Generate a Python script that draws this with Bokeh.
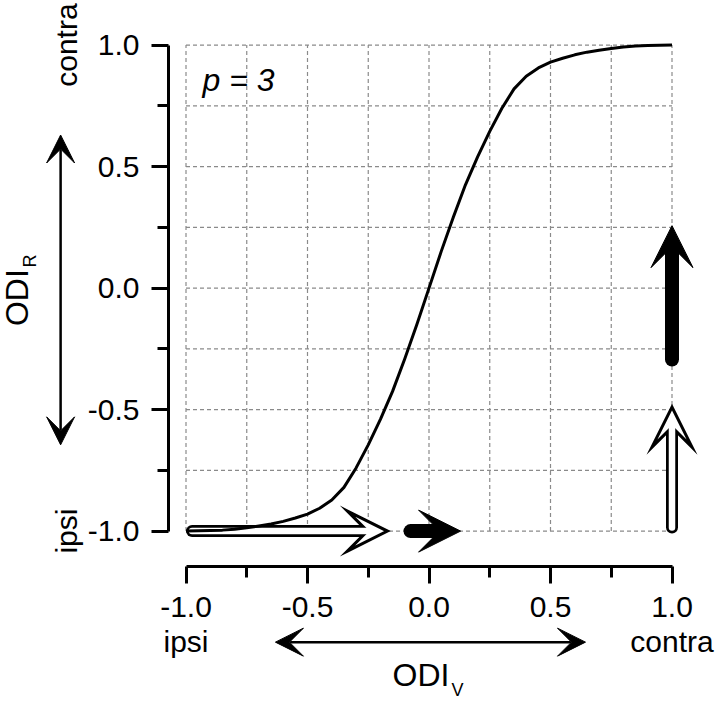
import math
from bokeh.plotting import figure
from bokeh.models import FixedTicker, Arrow, VeeHead, Label, Range1d
from bokeh.embed import file_html
from bokeh.resources import INLINE

# ---------------- data ----------------
odi_v = [-1.0, -0.95, -0.9, -0.85, -0.8, -0.75, -0.7, -0.65, -0.6, -0.55, -0.5, -0.45, -0.4, -0.35,
         -0.3, -0.25, -0.2, -0.15, -0.1, -0.05, 0.0, 0.05, 0.1, 0.15, 0.2, 0.25, 0.3,
         0.35, 0.4, 0.45, 0.5, 0.55, 0.6, 0.65, 0.7, 0.75, 0.8, 0.85, 0.9, 0.95, 1.0]
odi_r = [-1.0, -0.999, -0.998, -0.996, -0.992, -0.986, -0.979, -0.971, -0.960, -0.946, -0.930, -0.906,
         -0.872, -0.820, -0.740, -0.645, -0.540, -0.425, -0.292, -0.150, 0.0, 0.150, 0.292, 0.425,
         0.540, 0.645, 0.740, 0.820, 0.872, 0.906, 0.930, 0.946, 0.960, 0.971, 0.979, 0.986, 0.992,
         0.996, 0.998, 0.999, 1.0]

major_ticks = [-1.0, -0.5, 0.0, 0.5, 1.0]
minor_ticks = [-0.75, -0.25, 0.25, 0.75]
grid_pos = [-1.0, -0.75, -0.5, -0.25, 0.0, 0.25, 0.5, 0.75, 1.0]
y_tick_labels = ["-1.0", "-0.5", "0.0", "0.5", "1.0"]
x_tick_labels = ["-1.0\nipsi", "-0.5", "0.0", "0.5", "1.0\ncontra"]

# arrows: (x_start, y_start, x_end, y_end)
hollow_h = (-0.975, -1.0, -0.171, -1.0)
filled_h = (-0.076, -1.0, 0.13, -1.0)
hollow_v = (1.0, -0.985, 1.0, -0.49)
filled_v = (1.0, -0.294, 1.0, 0.257)

# double-headed axis arrows
odir_arrow = (-1.516, -0.645, -1.516, 0.63)
odiv_arrow = (-0.632, -1.457, 0.644, -1.457)

FONT = "Liberation Sans"
PX = 243.0  # pixels per data unit (both axes)

W, H = 720, 702
x0r = -1.0 - 185.5 / PX
y1r = 287.6 / PX
p = figure(width=W, height=H,
           x_range=Range1d(x0r, x0r + W / PX), y_range=Range1d(y1r - H / PX, y1r),
           output_backend="svg", toolbar_location=None,
           min_border_left=0, min_border_right=0, min_border_top=0, min_border_bottom=0)
p.outline_line_color = None
p.background_fill_color = "white"
p.border_fill_color = "white"
p.xgrid.visible = False
p.ygrid.visible = False
p.title.visible = False

for ax in (p.xaxis[0], p.yaxis[0]):
    ax.ticker = FixedTicker(ticks=major_ticks, minor_ticks=minor_ticks)
    ax.bounds = (-1, 1)
    ax.axis_line_width = 3
    ax.axis_line_color = "black"
    ax.major_tick_line_width = 3
    ax.minor_tick_line_width = 3
    ax.major_tick_line_color = "black"
    ax.minor_tick_line_color = "black"
    ax.major_tick_in = 0
    ax.major_tick_out = 17
    ax.minor_tick_in = 0
    ax.minor_tick_out = 11
    ax.major_label_text_font = FONT
    ax.major_label_text_font_size = "30px"
    ax.major_label_text_color = "black"

p.yaxis[0].fixed_location = -1.0 - 17.5 / PX
p.yaxis[0].major_label_overrides = {t: s for t, s in zip(major_ticks, y_tick_labels)}
p.yaxis[0].major_label_standoff = 12
p.xaxis[0].fixed_location = -1.0 - 35.3 / PX
p.xaxis[0].major_label_overrides = {t: s for t, s in zip(major_ticks, x_tick_labels)}
p.xaxis[0].major_label_standoff = 7
p.xaxis[0].major_label_text_line_height = 1.05

# dashed grid inside -1..1
n = len(grid_pos)
p.segment(x0=grid_pos, y0=[-1.0] * n, x1=grid_pos, y1=[1.0] * n,
          line_color="#8a8a8a", line_width=1.2, line_dash="4 3")
p.segment(x0=[-1.0] * n, y0=grid_pos, x1=[1.0] * n, y1=grid_pos,
          line_color="#8a8a8a", line_width=1.2, line_dash="4 3")


def shaft_end(a, back_px):
    x0, y0, x1, y1 = a
    dx, dy = x1 - x0, y1 - y0
    L = math.hypot(dx, dy)
    return x1 - dx / L * back_px / PX, y1 - dy / L * back_px / PX


def head_only(a, head):
    x0, y0, x1, y1 = a
    p.add_layout(Arrow(x_start=x0, y_start=y0, x_end=x1, y_end=y1,
                       line_alpha=0, line_width=1, end=head))


def hollow_arrow(a, size=40):
    x0, y0, x1, y1 = a
    ex, ey = shaft_end(a, size * 0.5)
    p.segment(x0=[x0], y0=[y0], x1=[ex], y1=[ey], line_width=12,
              line_color="black", line_cap="round")
    head_only(a, VeeHead(size=size, fill_color="white", line_color="black",
                         line_width=3, line_join="miter"))
    wx, wy = shaft_end(a, size * 0.5 - 4)
    r = p.segment(x0=[x0], y0=[y0], x1=[wx], y1=[wy], line_width=6.5,
                  line_color="white", line_cap="round")
    r.level = "overlay"


def filled_arrow(a, size=42):
    x0, y0, x1, y1 = a
    ex, ey = shaft_end(a, size * 0.5)
    p.segment(x0=[x0], y0=[y0], x1=[ex], y1=[ey], line_width=14,
              line_color="black", line_cap="round")
    head_only(a, VeeHead(size=size, fill_color="black", line_color="black",
                         line_width=1, line_join="miter"))


hollow_arrow(hollow_h)
filled_arrow(filled_h)
hollow_arrow(hollow_v)
filled_arrow(filled_v)

for a in (odir_arrow, odiv_arrow):
    x0, y0, x1, y1 = a
    p.add_layout(Arrow(x_start=x0, y_start=y0, x_end=x1, y_end=y1,
                       line_width=2.5, line_color="black",
                       start=VeeHead(size=28, fill_color="black", line_color="black", line_width=1),
                       end=VeeHead(size=28, fill_color="black", line_color="black", line_width=1)))

curve = p.line(odi_v, odi_r, line_width=3, line_color="black", line_join="round")
curve.level = "overlay"


def lab(text, x, y, size, angle=0.0, align="left", style="normal"):
    p.add_layout(Label(x=x, y=y, text=text, angle=angle, text_align=align,
                       text_baseline="middle", text_font=FONT,
                       text_font_size=size, text_color="black", text_font_style=style))


lab("p = 3", -0.932, 0.858, "32px", style="italic")
lab("contra", -1.4934, 1.0, "30px", angle=math.pi / 2, align="center")
lab("ipsi", -1.4934, -1.0, "30px", angle=math.pi / 2, align="center")
lab("ODI", -1.697, -0.039, "32px", angle=math.pi / 2, align="center")
lab("R", -1.640, 0.085, "18px", angle=math.pi / 2, align="left")
lab("ODI", -0.033, -1.592, "32px", align="center")
lab("V", 0.093, -1.652, "18px", align="left")

open("out.html", "w").write(file_html(p, INLINE))
